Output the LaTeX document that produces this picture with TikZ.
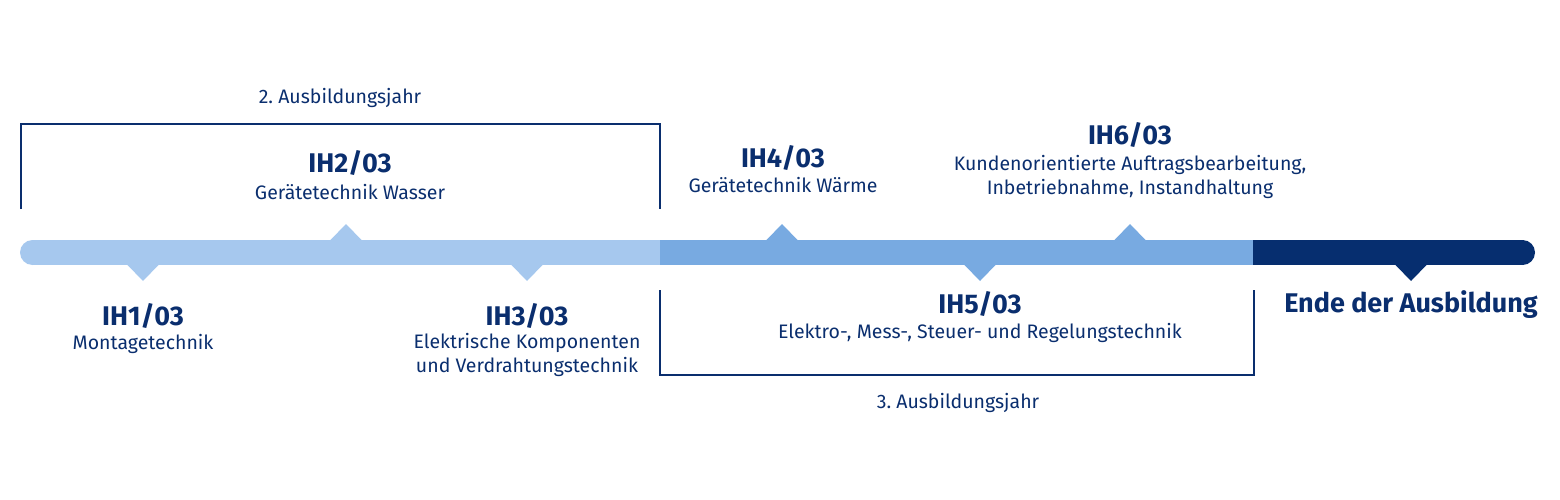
\documentclass[tikz,border=0pt]{standalone}
\usepackage{fontspec}
\setmainfont{Fira Sans}
\definecolor{navy}{HTML}{0A2E6E}
\definecolor{barlight}{HTML}{A6C8EE}
\definecolor{barmid}{HTML}{78AAE1}
\definecolor{bardark}{HTML}{062E6F}
\tikzset{
  title/.style={anchor=base, inner sep=0pt, text=navy, font=\fontsize{27}{30}\selectfont\bfseries},
  sub/.style={anchor=base, inner sep=0pt, text=navy, font=\fontsize{19.5}{24}\selectfont},
  bracket/.style={draw=navy, line width=2pt},
  notchup/.style={},
}
\newcommand{\twol}[2]{\begin{tabular}[t]{@{}c@{}}#1\\#2\end{tabular}}
\begin{document}
\begin{tikzpicture}[x=1pt,y=-1pt]
\useasboundingbox (0,0) rectangle (1560,500);
% bar
\fill[barlight] (32.5,240) rectangle (660,265);
\fill[barlight] (32.5,252.5) circle[radius=12.5pt];
\fill[barmid] (660,240) rectangle (1253,265);
\fill[bardark] (1253,240) rectangle (1522.5,265);
\fill[bardark] (1522.5,252.5) circle[radius=12.5pt];
% notches up
\fill[barlight] (330,240.5) -- (346,224) -- (362,240.5) -- cycle;
\fill[barmid] (766,240.5) -- (782,224) -- (798,240.5) -- cycle;
\fill[barmid] (1114,240.5) -- (1130,224) -- (1146,240.5) -- cycle;
% notches down
\fill[barlight] (127,264.5) -- (143,281) -- (159,264.5) -- cycle;
\fill[barlight] (511,264.5) -- (527,281) -- (543,264.5) -- cycle;
\fill[barmid] (964,264.5) -- (980,281) -- (996,264.5) -- cycle;
\fill[bardark] (1395,264.5) -- (1411,281) -- (1427,264.5) -- cycle;
% brackets
\draw[bracket] (21,209) -- (21,124) -- (660,124) -- (660,209);
\draw[bracket] (660,290) -- (660,375) -- (1254,375) -- (1254,290);
% texts
\node[sub] (y2) at (340,104) {2.~Ausbildungsjahr};
\node[title] (ih2) at (350,172) {IH2/03};
\node[sub] (ih2s) at (350,199) {Gerätetechnik Wasser};
\node[title] (ih4) at (783,167) {IH4/03};
\node[sub] (ih4s) at (783,192) {Gerätetechnik Wärme};
\node[title] (ih6) at (1130,144) {IH6/03};
\node[sub] (ih6s) at (1130,170) {\twol{Kundenorientierte Auftragsbearbeitung,}{Inbetriebnahme, Instandhaltung}};
\node[title] (ih1) at (143,325) {IH1/03};
\node[sub] (ih1s) at (143,349) {Montagetechnik};
\node[title] (ih3) at (527,325) {IH3/03};
\node[sub] (ih3s) at (527,348) {\twol{Elektrische Komponenten}{und Verdrahtungstechnik}};
\node[title] (ih5) at (980,313) {IH5/03};
\node[sub] (ih5s) at (980,338) {Elektro-, Mess-, Steuer- und Regelungstechnik};
\node[title] (end) at (1411,312) {Ende der Ausbildung};
\node[sub] (y3) at (958,408) {3.~Ausbildungsjahr};
\end{tikzpicture}
\end{document}
